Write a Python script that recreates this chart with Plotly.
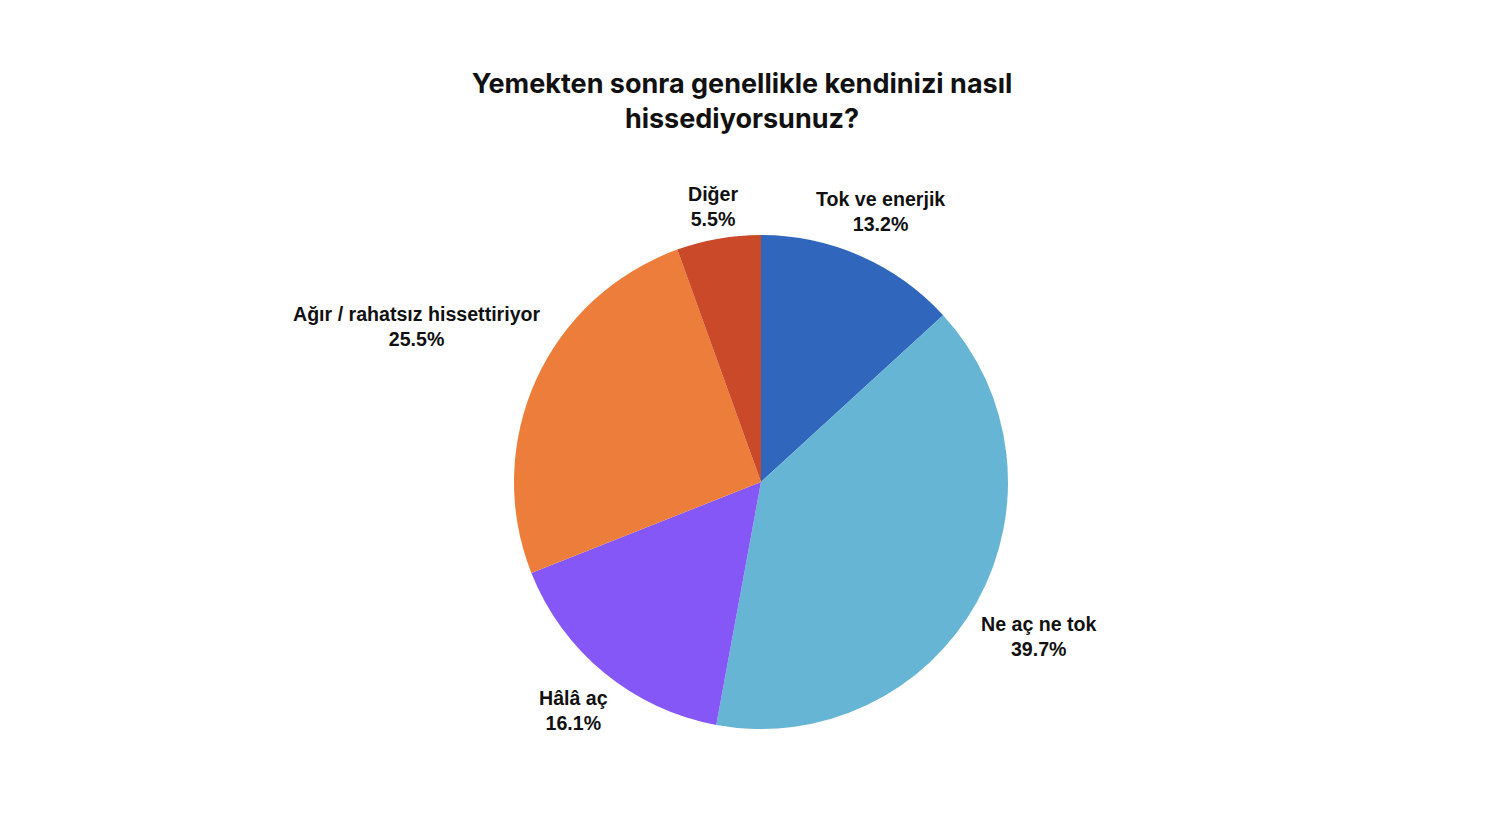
import math
import plotly.graph_objects as go

labels = ["Tok ve enerjik", "Ne aç ne tok", "Hâlâ aç", "Ağır / rahatsız hissettiriyor", "Diğer"]
values = [13.2, 39.7, 16.1, 25.5, 5.5]
colors = ["#3067BD", "#66B5D4", "#8457F6", "#ED7D3A", "#C94929"]

# label distance from centre, as a multiple of the pie radius
label_dist = [1.198, 1.287, 1.198, 1.526, 1.134]

W, H = 1488, 818
L, R, T, B = 92, 74, 227, 97
plot_w, plot_h = W - L - R, H - T - B
cx_px, cy_px = L + plot_w / 2, T + plot_h / 2
radius = min(plot_w, plot_h) / 2

fig = go.Figure(go.Pie(
    labels=labels,
    values=values,
    sort=False,
    direction="clockwise",
    rotation=0,
    marker=dict(colors=colors, line=dict(width=0)),
    textinfo="none",
    showlegend=False,
    hoverinfo="label+percent",
))

total = sum(values)
cum = 0.0
annotations = []
for lab, v, f in zip(labels, values, label_dist):
    mid = (cum + v / 2) / total * 2 * math.pi
    cum += v
    px = cx_px + f * radius * math.sin(mid)
    py = cy_px - f * radius * math.cos(mid)
    annotations.append(dict(
        x=(px - L) / plot_w, y=(H - B - py) / plot_h,
        xref="paper", yref="paper",
        xanchor="center", yanchor="middle",
        text=f"<b>{lab}</b><br><b>{v / total * 100:.1f}%</b>",
        showarrow=False, align="center",
        font=dict(family="Liberation Sans", size=19.6, color="#111111"),
    ))

fig.update_layout(
    width=W, height=H,
    paper_bgcolor="white", plot_bgcolor="white",
    margin=dict(l=L, r=R, t=T, b=B),
    annotations=annotations,
    title=dict(
        text="<b>Yemekten sonra genellikle kendinizi nasıl<br>hissediyorsunuz?</b>",
        x=734 / W, xref="container", xanchor="center",
        y=1 - 85 / H, yref="container", yanchor="top",
        font=dict(family="Inter", size=27, color="#111111"),
    ),
)

fig.write_html("out.html")
